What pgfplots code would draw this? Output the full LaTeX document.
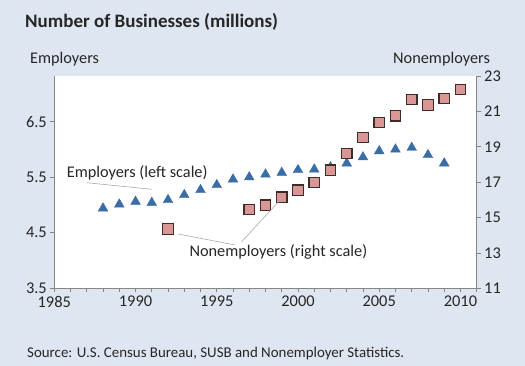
\documentclass[border=0pt]{standalone}
\usepackage{pgfplots}
\pgfplotsset{compat=1.18}
\usepackage{fontspec}
\setmainfont{Carlito}
\definecolor{bg}{RGB}{222,230,241}
\definecolor{tri}{RGB}{58,108,166}
\definecolor{sqfill}{RGB}{217,150,148}
\definecolor{sqedge}{RGB}{60,45,40}
\definecolor{axgray}{RGB}{134,134,134}
\definecolor{lead}{RGB}{170,170,170}
\pgfplotstableread{
year emp
1988 4.94
1989 5.01
1990 5.06
1991 5.04
1992 5.09
1993 5.18
1994 5.27
1995 5.36
1996 5.46
1997 5.50
1998 5.55
1999 5.58
2000 5.63
2001 5.64
2002 5.68
2003 5.75
2004 5.86
2005 5.97
2006 6.00
2007 6.03
2008 5.90
2009 5.75
}\emptab
\pgfplotstableread{
year non
1992 14.35
1997 15.45
1998 15.70
1999 16.15
2000 16.55
2001 16.97
2002 17.67
2003 18.63
2004 19.53
2005 20.38
2006 20.75
2007 21.68
2008 21.36
2009 21.73
2010 22.24
}\nontab
\begin{document}
\begin{tikzpicture}
\fill[bg] (0,0) rectangle (525bp,366bp);
\fill[white] (54.3bp,77.7bp) rectangle (476.7bp,290bp);
\pgfplotsset{every axis/.append style={
  at={(54.3bp,77.7bp)}, anchor=south west, scale only axis,
  width=422.4bp, height=212.3bp,
  xmin=1985, xmax=2011,
  /pgf/number format/assume math mode=true,
  tick label style={font=\fontsize{16.4bp}{18bp}\selectfont, text=black!85},
  axis line style={axgray, line width=0.8pt},
  major tick length=4bp, minor tick length=4bp,
  tick style={axgray, line width=0.7pt},
}}
\begin{axis}[
  axis x line*=bottom, axis y line*=left,
  ymin=3.5, ymax=7.32,
  ytick={3.5,4.5,5.5,6.5},
  yticklabel style={/pgf/number format/fixed, /pgf/number format/precision=1, /pgf/number format/fixed zerofill},
  xtick={1985,1990,...,2010},
  minor xtick={1986,...,2011},
  xticklabel style={/pgf/number format/set thousands separator={}},
  tick align=outside,
  clip=false,
]
\addplot[only marks, mark=triangle*, mark size=5.6bp, mark options={fill=tri, draw=tri}] table[x=year,y=emp]{\emptab};
\end{axis}
\begin{axis}[
  axis x line=none, axis y line*=right,
  ymin=11, ymax=23,
  ytick={11,13,...,23},
  tick align=outside,
  clip=false,
]
\addplot[only marks, mark=square*, mark size=5.2bp, mark options={fill=sqfill, draw=sqedge, line width=1.2bp}] table[x=year,y=non]{\nontab};
\end{axis}
% leader lines
\draw[lead, line width=0.6bp] (86.7bp,183.3bp) -- (151.7bp,176.7bp);
\draw[lead, line width=0.6bp] (178.3bp,132bp) -- (235bp,121bp);
\draw[lead, line width=0.6bp] (241.7bp,124.3bp) -- (281.7bp,167.7bp);
% texts
\node[anchor=base west, inner sep=0pt, font=\fontsize{16.3bp}{18bp}\selectfont, text=black!85] at (66.7bp,188bp) {Employers (left scale)};
\node[anchor=base west, inner sep=0pt, font=\fontsize{16.3bp}{18bp}\selectfont, text=black!85] at (189.3bp,109bp) {Nonemployers (right scale)};
\node[anchor=base west, inner sep=0pt, font=\bfseries\fontsize{19bp}{21bp}\selectfont, text=black!85] at (25bp,338bp) {Number of Businesses (millions)};
\node[anchor=base west, inner sep=0pt, font=\fontsize{16.3bp}{18bp}\selectfont, text=black!85] at (30bp,302.7bp) {Employers};
\node[anchor=base west, inner sep=0pt, font=\fontsize{16.3bp}{18bp}\selectfont, text=black!85] at (393bp,302.7bp) {Nonemployers};
\node[anchor=base west, inner sep=0pt, font=\fontsize{14.9bp}{16bp}\selectfont, text=black!85] at (27bp,8.3bp) {Source: U.S. Census Bureau, SUSB and Nonemployer Statistics.};
\end{tikzpicture}
\end{document}
